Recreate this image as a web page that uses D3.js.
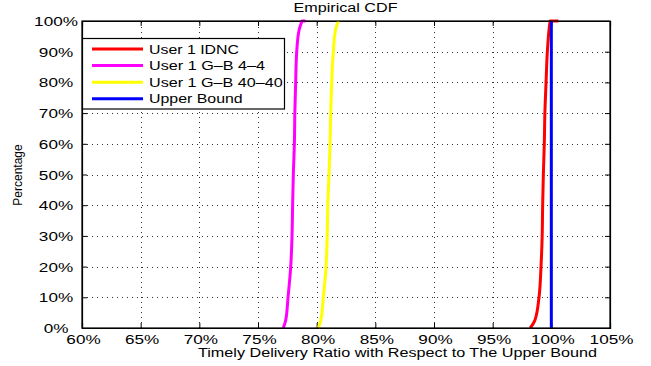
<!DOCTYPE html>
<html>
<head>
<meta charset="utf-8">
<script src="https://cdn.jsdelivr.net/npm/d3@7"></script>
<style>
  html, body { margin: 0; padding: 0; background: #fff; }
  svg { display: block; }
  text { font-family: "Liberation Sans", Arial, Helvetica, sans-serif; fill: #000; }
</style>
</head>
<body>
<svg id="chart" width="651" height="366"></svg>
<script>
// CDF levels (percent) shared by the empirical curves
const cdfLevels = [0, 2.5, 10, 20, 30, 40, 50, 60, 70, 80, 90, 97, 100];

// Timely delivery ratio (%) reached at each CDF level
const idnc   = [98.2, 98.6, 98.95, 99.12, 99.22, 99.26, 99.32, 99.4, 99.45, 99.55, 99.66, 99.8, 99.9];
const gb44   = [77.16, 77.36, 77.56, 77.79, 77.9, 77.95, 78.01, 78.1, 78.14, 78.21, 78.3, 78.5, 78.75];
const gb4040 = [80.15, 80.35, 80.57, 80.8, 80.9, 80.95, 81.05, 81.14, 81.2, 81.28, 81.42, 81.6, 81.85];
// largest observed ratio of each series (flat run at 100%)
const maxRatio = [100.6, 79.05, 81.85, 100];
const upperLevels = [0, 100];
const upper  = [100, 100];

const seriesNames  = ["User 1 IDNC", "User 1 G\u2013B 4\u20134", "User 1 G\u2013B 40\u201340", "Upper Bound"];
const seriesColors = ["#ff0000", "#ff00ff", "#ffff00", "#0000ff"];

const xTicks = [60, 65, 70, 75, 80, 85, 90, 95, 100, 105];
const yTicks = [0, 10, 20, 30, 40, 50, 60, 70, 80, 90, 100];

const svg = d3.select("#chart");
const plot = { left: 82, right: 610, top: 21, bottom: 328 };

const x = d3.scaleLinear().domain([60, 105]).range([plot.left, plot.right]);
const y = d3.scaleLinear().domain([0, 100]).range([plot.bottom, plot.top]);

// dotted grid
const grid = svg.append("g").attr("stroke", "#333").attr("stroke-width", 1)
  .attr("stroke-dasharray", "1,4").attr("shape-rendering", "crispEdges");
grid.selectAll("line.gx").data(xTicks.slice(1, -1)).join("line")
  .attr("x1", d => Math.round(x(d)) + 0.5).attr("x2", d => Math.round(x(d)) + 0.5)
  .attr("y1", plot.bottom).attr("y2", plot.top);
grid.selectAll("line.gy").data(yTicks.slice(1, -1)).join("line")
  .attr("y1", d => Math.round(y(d)) + 0.5).attr("y2", d => Math.round(y(d)) + 0.5)
  .attr("x1", plot.left).attr("x2", plot.right);

// axes with inward ticks on all four sides
const tl = 5;
const xb = svg.append("g").attr("transform", `translate(0,${plot.bottom})`)
  .call(d3.axisBottom(x).tickValues(xTicks).tickSize(-tl).tickFormat(d => d + "%"));
const xt = svg.append("g").attr("transform", `translate(0,${plot.top})`)
  .call(d3.axisTop(x).tickValues(xTicks).tickSize(-tl).tickFormat(""));
const yl = svg.append("g").attr("transform", `translate(${plot.left},0)`)
  .call(d3.axisLeft(y).tickValues(yTicks).tickSize(-tl).tickFormat(d => d + "%"));
const yr = svg.append("g").attr("transform", `translate(${plot.right},0)`)
  .call(d3.axisRight(y).tickValues(yTicks).tickSize(-tl).tickFormat(""));

[xb, xt, yl, yr].forEach(g => {
  g.select(".domain").attr("stroke", "#000").attr("stroke-width", 1.2);
  g.selectAll(".tick line").attr("stroke", "#000");
});

xb.selectAll("text")
  .attr("y", null).attr("dy", null)
  .attr("font-size", 12.5)
  .attr("transform", "translate(1,16) scale(1.37,1)");
yl.selectAll("text")
  .attr("x", null).attr("dy", null)
  .attr("text-anchor", "middle")
  .attr("font-size", 12.5)
  .attr("transform", "translate(-26,4.5) scale(1.37,1)");
svg.selectAll(".tick text").style("font-family", '"Liberation Sans", Arial, sans-serif');

// curves: smooth rise through the CDF levels, then a short flat run at 100%
const rise = d3.line().x(d => x(d[0])).y(d => y(d[1])).curve(d3.curveMonotoneY);
const flat = d3.line().x(d => x(d[0])).y(d => y(d[1]));
const curves = [
  { vals: idnc, levels: cdfLevels, max: maxRatio[0] },
  { vals: gb44, levels: cdfLevels, max: maxRatio[1] },
  { vals: gb4040, levels: cdfLevels, max: maxRatio[2] },
  { vals: upper, levels: upperLevels, max: maxRatio[3] }
];
const cg = svg.append("g");
curves.forEach((c, i) => {
  const pts = c.vals.map((v, j) => [v, c.levels[j]]);
  cg.append("path")
    .attr("d", rise(pts) + flat([pts[pts.length - 1], [c.max, 100]]).replace(/^M/, "L"))
    .attr("fill", "none")
    .attr("stroke", seriesColors[i])
    .attr("stroke-width", 3)
    .attr("stroke-linejoin", "round");
});

// redraw the frame on top so curve ends do not cover it
svg.append("rect").attr("x", plot.left).attr("y", plot.top)
  .attr("width", plot.right - plot.left).attr("height", plot.bottom - plot.top)
  .attr("fill", "none").attr("stroke", "#000").attr("stroke-width", 1.2);

// legend
const legend = svg.append("g");
legend.append("rect").attr("x", 82.5).attr("y", 38.5).attr("width", 202).attr("height", 70.5)
  .attr("fill", "#fff").attr("stroke", "#000").attr("stroke-width", 1.2);
const legendWidths = [90, 116, 133.7, 93.7];
const ly = d3.scalePoint().domain(seriesNames).range([49, 98.7]);
seriesNames.forEach((name, i) => {
  legend.append("line")
    .attr("x1", 92).attr("x2", 143).attr("y1", ly(name)).attr("y2", ly(name))
    .attr("stroke", seriesColors[i]).attr("stroke-width", 3);
  legend.append("text")
    .attr("x", 149).attr("y", ly(name) + 4.5)
    .attr("font-size", 12.5)
    .attr("textLength", legendWidths[i]).attr("lengthAdjust", "spacingAndGlyphs")
    .text(name);
});

// title and axis labels
svg.append("text").attr("x", 293.5).attr("y", 12)
  .attr("font-size", 12).attr("textLength", 104).attr("lengthAdjust", "spacingAndGlyphs")
  .text("Empirical CDF");
svg.append("text").attr("x", 198).attr("y", 357)
  .attr("font-size", 12.5).attr("textLength", 399).attr("lengthAdjust", "spacingAndGlyphs")
  .text("Timely Delivery Ratio with Respect to The Upper Bound");
svg.append("text")
  .attr("transform", "translate(22,175) rotate(-90)")
  .attr("text-anchor", "middle").attr("font-size", 12)
  .text("Percentage");
</script>
</body>
</html>
